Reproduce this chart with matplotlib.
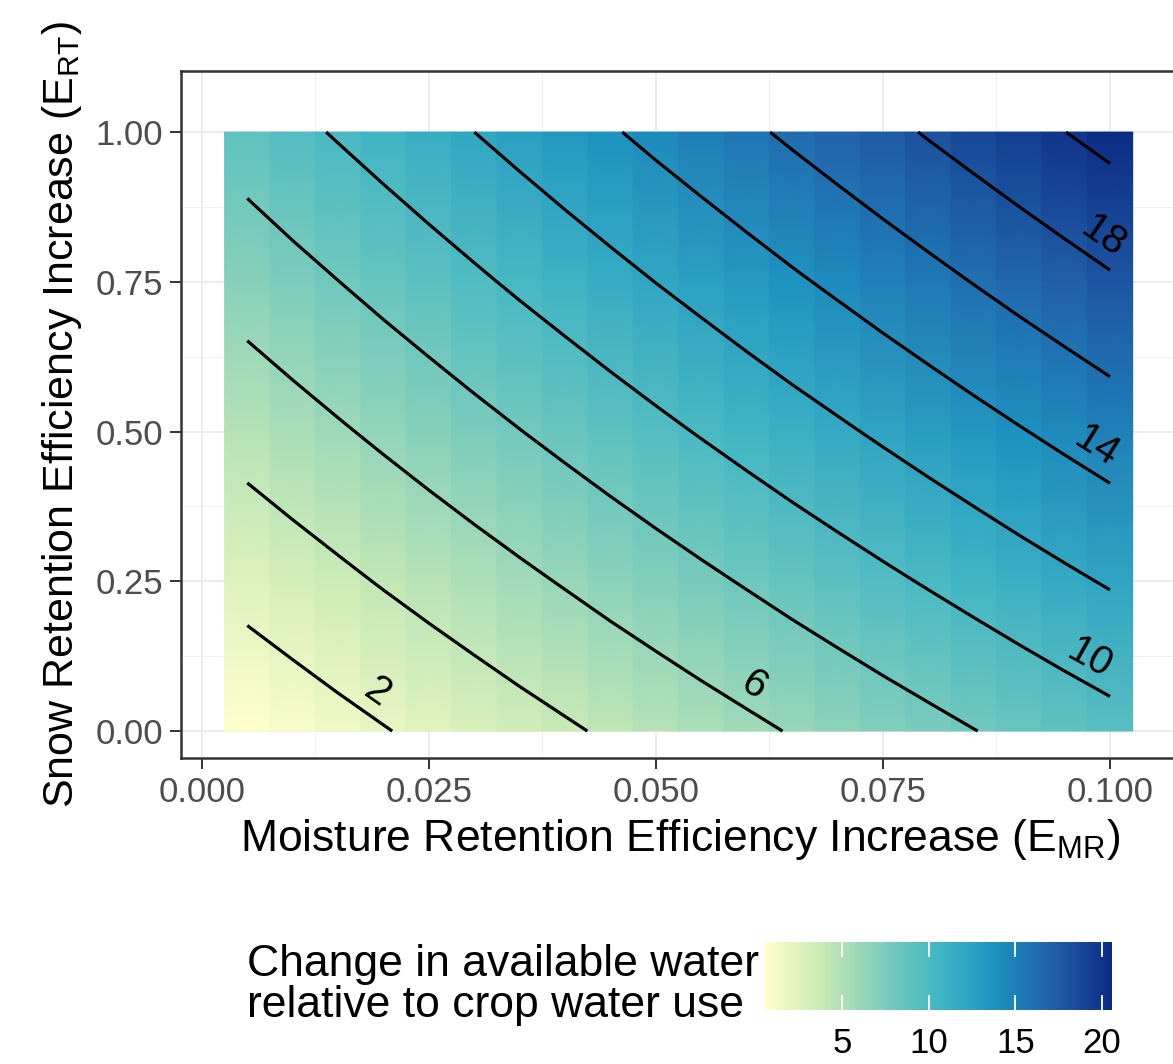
import numpy as np
import matplotlib
matplotlib.use("Agg")
import matplotlib.pyplot as plt
from matplotlib.colors import LinearSegmentedColormap, Normalize
from matplotlib.cm import ScalarMappable
from matplotlib.transforms import ScaledTranslation

plt.rcParams['font.family'] = ['Liberation Sans', 'DejaVu Sans']
plt.rcParams['mathtext.fontset'] = 'custom'
plt.rcParams['mathtext.rm'] = 'Liberation Sans'

# moisture retention efficiency increase (tile centres)
e_mr = [0.005, 0.010, 0.015, 0.020, 0.025, 0.030, 0.035, 0.040, 0.045, 0.050,
        0.055, 0.060, 0.065, 0.070, 0.075, 0.080, 0.085, 0.090, 0.095, 0.100]
# snow retention efficiency increase
e_rt = [0.0, 0.25, 0.5, 0.75, 1.0]

# change in available water relative to crop water use, one row per e_rt value
water_rt000 = [0.52, 0.98, 1.45, 1.91, 2.38, 2.84, 3.31, 3.77, 4.24, 4.70,
               5.17, 5.63, 6.10, 6.56, 7.03, 7.49, 7.96, 8.42, 8.89, 9.35]
water_rt025 = [2.62, 3.12, 3.62, 4.13, 4.63, 5.13, 5.63, 6.13, 6.64, 7.14,
               7.64, 8.14, 8.65, 9.15, 9.65, 10.15, 10.65, 11.16, 11.66, 12.16]
water_rt050 = [4.72, 5.26, 5.80, 6.34, 6.88, 7.42, 7.96, 8.50, 9.04, 9.58,
               10.12, 10.66, 11.20, 11.73, 12.27, 12.81, 13.35, 13.89, 14.43, 14.97]
water_rt075 = [6.83, 7.41, 7.98, 8.56, 9.13, 9.71, 10.29, 10.86, 11.44, 12.02,
               12.59, 13.17, 13.75, 14.32, 14.90, 15.47, 16.05, 16.63, 17.20, 17.78]
water_rt100 = [8.93, 9.55, 10.16, 10.77, 11.39, 12.00, 12.61, 13.23, 13.84, 14.46,
               15.07, 15.68, 16.30, 16.91, 17.52, 18.14, 18.75, 19.36, 19.98, 20.59]

contour_levels = [2, 4, 6, 8, 10, 12, 14, 16, 18, 20]
labelled_levels = [2, 6, 10, 14, 18]
bar_ticks = [5, 10, 15, 20]

z = np.array([water_rt000, water_rt025, water_rt050, water_rt075, water_rt100])
x = np.array(e_mr)
y = np.array(e_rt)

ylgnbu = ["#FFFFCC", "#C7E9B4", "#7FCDBB", "#41B6C4", "#1D91C0", "#225EA8", "#0C2C84"]
cmap = LinearSegmentedColormap.from_list("ylgnbu7", ylgnbu)
norm = Normalize(vmin=z.min(), vmax=z.max())

W, H = 1173, 1064
fig = plt.figure(figsize=(W / 100, H / 100), dpi=100)
ax = fig.add_axes([181 / W, 1 - 758 / H, 998 / W, 687 / H])
ax.set_xlim(-0.0023, 0.1076)
ax.set_ylim(-0.045, 1.102)

# tiles: constant across each column, smooth along y
half = (x[1] - x[0]) / 2
for i, xc in enumerate(x):
    X = np.array([[xc - half, xc + half]] * len(y))
    Y = np.column_stack([y, y])
    C = np.column_stack([z[:, i], z[:, i]])
    ax.pcolormesh(X, Y, C, shading='gouraud', cmap=cmap, norm=norm, zorder=1)

cs = ax.contour(x, y, z, levels=contour_levels, colors='black', linewidths=2.3, zorder=3)
# separate invisible set for the labelled levels
cs_lab = ax.contour(x, y, z, levels=labelled_levels, colors='black', linewidths=0, zorder=3)
label_spots = [(0.0181, 0.037), (0.0597, 0.047), (0.0966, 0.090), (0.0969, 0.436), (0.0977, 0.790)]
texts = ax.clabel(cs_lab, manual=label_spots, inline=False,
                  fontsize=29, fmt='%d', colors='black')
for t in texts:
    r = np.deg2rad(t.get_rotation())
    d = 17 / 72
    t.set_transform(t.get_transform() + ScaledTranslation(-np.sin(r) * d, np.cos(r) * d, fig.dpi_scale_trans))

# grid, ticks, spines (theme_bw look)
ax.set_xticks([0.0, 0.025, 0.05, 0.075, 0.1])
ax.set_xticklabels(['0.000', '0.025', '0.050', '0.075', '0.100'])
ax.set_yticks([0.0, 0.25, 0.5, 0.75, 1.0])
ax.set_yticklabels(['0.00', '0.25', '0.50', '0.75', '1.00'])
ax.set_xticks([0.0125, 0.0375, 0.0625, 0.0875], minor=True)
ax.set_yticks([0.125, 0.375, 0.625, 0.875], minor=True)
ax.grid(True, which='major', color='#ebebeb', linewidth=1.3, zorder=0)
ax.grid(True, which='minor', color='#f2f2f2', linewidth=0.8, zorder=0)
ax.set_axisbelow(True)
ax.tick_params(which='major', length=8, width=1.4, color='#333333', labelcolor='#4d4d4d',
               labelsize=25, pad=5)
ax.tick_params(which='minor', length=0)
for s in ax.spines.values():
    s.set_color('#333333')
    s.set_linewidth(1.8)

ax.set_xlabel(r'Moisture Retention Efficiency Increase (E$_{\mathregular{MR}}$)', fontsize=32, labelpad=6)
ax.set_ylabel(r'Snow Retention Efficiency Increase (E$_{\mathregular{RT}}$)', fontsize=31, labelpad=8)

# colour bar legend
cax = fig.add_axes([765 / W, 1 - 1010 / H, 347 / W, 68 / H])
cb = fig.colorbar(ScalarMappable(norm=norm, cmap=cmap), cax=cax, orientation='horizontal')
cb.outline.set_visible(False)
cb.set_ticks(bar_ticks)
cax.tick_params(length=0, labelsize=25, labelcolor='black', pad=12)
for v in bar_ticks:
    cax.plot([v, v], [0, 0.2], transform=cax.get_xaxis_transform(), color='white', lw=1.3)
    cax.plot([v, v], [0.8, 1], transform=cax.get_xaxis_transform(), color='white', lw=1.3)

fig.text(247 / W, 1 - 985 / H, 'Change in available water\nrelative to crop water use',
         fontsize=32, ha='left', va='center', linespacing=1.0)

fig.savefig('out.png', dpi=100)
